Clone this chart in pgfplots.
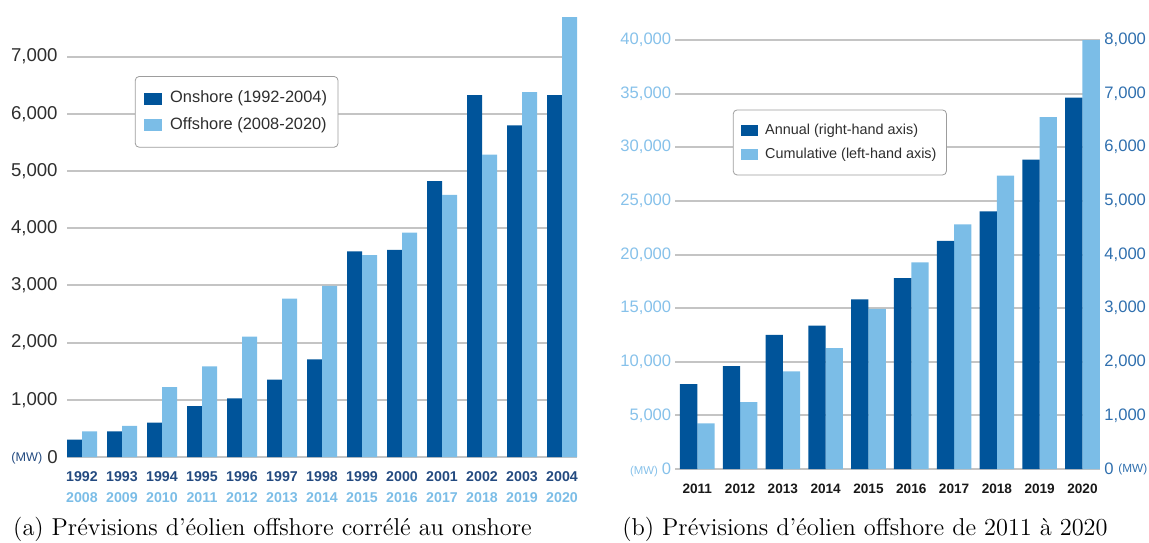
\documentclass[border=0pt]{standalone}
\usepackage{fontspec}
\usepackage{pgfplots}
\pgfplotsset{compat=1.18}
\newfontfamily\chartfont{Liberation Sans}

\definecolor{dk}{HTML}{00549A}
\definecolor{lt}{HTML}{7BBDE7}
\definecolor{gridc}{HTML}{C4C4C4}
\definecolor{ticktxt}{HTML}{2E2E2E}
\definecolor{navy}{HTML}{234A80}
\definecolor{ltxt}{HTML}{86C1EA}
\definecolor{rtxt}{HTML}{2F6FAE}

\newcommand\lab[2]{{\color{navy}\bfseries #1}\\{\color{lt}\bfseries #2}}

\pgfplotsset{
  base/.style={
    scale only axis, clip=false,
    axis line style={draw=none},
    major tick length=0pt,
    tick style={draw=none},
    grid style={gridc, line width=1pt},
    scaled y ticks=false,
    yticklabel={\pgfmathprintnumber[assume math mode=true,1000 sep={,}]{\tick}},
    legend cell align=left,
    legend image code/.code={\fill[##1, sharp corners, draw=none] (0pt,-3pt) rectangle (9pt,3pt);},
  },
}

\begin{document}
\begin{tikzpicture}
\useasboundingbox (0,0) rectangle (574.5pt,271pt);

% (a) onshore vs offshore
\begin{axis}[base,
  at={(33.5pt,42.5pt)}, anchor=south west,
  width=255pt, height=220.2pt,
  xmin=-0.375, xmax=12.375, ymin=0, ymax=7700,
  ymajorgrids,
  ytick={0,1000,...,7000},
  yticklabel style={font=\chartfont\fontsize{9.3}{10}\selectfont, text=ticktxt,
    inner sep=0pt, anchor=east, xshift=-4.5pt},
  xtick={0,...,12},
  xticklabels={\lab{1992}{2008},\lab{1993}{2009},\lab{1994}{2010},\lab{1995}{2011},
    \lab{1996}{2012},\lab{1997}{2013},\lab{1998}{2014},\lab{1999}{2015},
    \lab{2000}{2016},\lab{2001}{2017},\lab{2002}{2018},\lab{2003}{2019},\lab{2004}{2020}},
  xticklabel style={align=center, inner sep=0pt, anchor=north, yshift=-7pt,
    font=\chartfont\fontsize{7.1}{10.5}\selectfont},
  legend style={at={(0.133,0.865)}, anchor=north west, draw=gridc!80!black,
    rounded corners=2pt, fill=white, text=ticktxt,
    font=\chartfont\fontsize{8.2}{9}\selectfont,
    inner xsep=4.5pt, inner ysep=6.2pt, row sep=3.6pt, column sep=3pt,
    nodes={inner sep=1pt, text height=6pt, text depth=1.7pt}},
]
\addplot[ybar, bar width=7.5pt, bar shift=-3.75pt, fill=dk, draw=none] coordinates {
  (0,306) (1,450) (2,600) (3,888) (4,1023) (5,1351) (6,1705)
  (7,3594) (8,3623) (9,4825) (10,6327) (11,5797) (12,6327)};
\addplot[ybar, bar width=7.5pt, bar shift=3.75pt, fill=lt, draw=none] coordinates {
  (0,450) (1,544) (2,1224) (3,1586) (4,2103) (5,2771) (6,2990)
  (7,3531) (8,3925) (9,4582) (10,5288) (11,6380) (12,7690)};
\legend{Onshore (1992-2004), Offshore (2008-2020)}
\node[anchor=east, inner sep=0pt, xshift=-12.2pt, yshift=-0.5pt, text=navy,
  font=\chartfont\fontsize{6.3}{7}\selectfont] at (rel axis cs:0,0) {(MW)};
\end{axis}

% (b) cumulative, left-hand axis
\begin{axis}[base,
  at={(337.5pt,36.5pt)}, anchor=south west,
  width=212.5pt, height=214.5pt,
  xmin=-0.52, xmax=9.41, ymin=0, ymax=40000,
  ymajorgrids,
  ytick={0,5000,...,40000},
  yticklabel style={font=\chartfont\fontsize{8.3}{9}\selectfont, text=ltxt,
    inner sep=0pt, anchor=east, xshift=-1.7pt},
  xtick={0,...,9},
  xticklabels={2011,2012,2013,2014,2015,2016,2017,2018,2019,2020},
  xticklabel style={inner sep=0pt, anchor=north, yshift=-7.5pt, text=black!90,
    font=\chartfont\bfseries\fontsize{6.8}{8}\selectfont},
]
\addplot[ybar, bar width=8.65pt, bar shift=4.33pt, fill=lt, draw=none] coordinates {
  (0,4250) (1,6230) (2,9110) (3,11265) (4,14940)
  (5,19275) (6,22800) (7,27350) (8,32800) (9,40000)};
\node[anchor=east, inner sep=0pt, xshift=-8.35pt, yshift=-1.3pt, text=ltxt,
  font=\chartfont\fontsize{5.7}{7}\selectfont] at (rel axis cs:0,0) {(MW)};
\end{axis}

% (b) annual, right-hand axis
\begin{axis}[base,
  at={(337.5pt,36.5pt)}, anchor=south west,
  width=212.5pt, height=214.5pt,
  xmin=-0.52, xmax=9.41, ymin=0, ymax=8000,
  xtick=\empty,
  ytick={0,1000,...,8000},
  yticklabel pos=right,
  yticklabel style={font=\chartfont\fontsize{8.3}{9}\selectfont, text=rtxt,
    inner sep=0pt, anchor=west, xshift=2pt},
  legend style={at={(0.136,0.838)}, anchor=north west, draw=gridc!80!black,
    rounded corners=2pt, fill=white, text=ticktxt,
    font=\chartfont\fontsize{7.2}{8}\selectfont,
    inner xsep=4pt, inner ysep=5.8pt, row sep=3.35pt, column sep=2.7pt,
    nodes={inner sep=1pt, text height=5.3pt, text depth=1.5pt}},
  legend image code/.code={\fill[#1, sharp corners, draw=none] (0pt,-2.9pt) rectangle (8.3pt,2.9pt);},
]
\addplot[ybar, bar width=8.65pt, bar shift=-4.33pt, fill=dk, draw=none] coordinates {
  (0,1583) (1,1920) (2,2500) (3,2673) (4,3164)
  (5,3561) (6,4256) (7,4805) (8,5768) (9,6924)};
\addlegendentry{Annual (right-hand axis)}
\addlegendimage{fill=lt, draw=none}
\addlegendentry{Cumulative (left-hand axis)}
\node[anchor=west, inner sep=0pt, xshift=9pt, text=rtxt,
  font=\chartfont\fontsize{5.9}{7}\selectfont] at (rel axis cs:1,0) {(MW)};
\end{axis}

\node[anchor=base, font=\fontsize{12.2}{14}\selectfont] at (136.25pt,3.5pt)
  {(a) Prévisions d'éolien offshore corrélé au onshore};
\node[anchor=base, font=\fontsize{12.2}{14}\selectfont] at (432.5pt,3.5pt)
  {(b) Prévisions d'éolien offshore de 2011 à 2020};
\end{tikzpicture}
\end{document}
